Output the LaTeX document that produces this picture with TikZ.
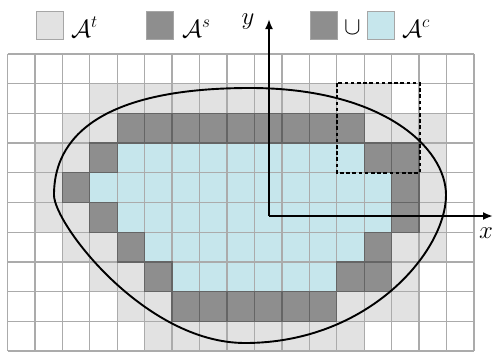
\documentclass[tikz,border=0pt]{standalone}
\usetikzlibrary{arrows.meta}

% cell colours: white, target set, boundary set, core set
\definecolor{cW}{HTML}{FFFFFF}
\definecolor{cL}{HTML}{E2E2E2}
\definecolor{cD}{HTML}{8E8E8E}
\definecolor{cC}{HTML}{C6E6EC}
\definecolor{gridline}{HTML}{ABABAB}
\definecolor{darkline}{HTML}{656565}

% occupancy of the 17 x 10 cell grid, top row first
\def\cellrows{
 {W,W,W,W,W,W,W,W,W,W,W,W,W,W,W,W,W},
 {W,W,W,L,L,L,L,L,L,L,L,L,L,L,W,W,W},
 {W,W,L,L,D,D,D,D,D,D,D,D,D,L,L,L,W},
 {W,L,L,D,C,C,C,C,C,C,C,C,C,D,D,L,W},
 {W,L,D,C,C,C,C,C,C,C,C,C,C,C,D,L,W},
 {W,L,L,D,C,C,C,C,C,C,C,C,C,C,D,L,W},
 {W,W,L,L,D,C,C,C,C,C,C,C,C,D,L,L,W},
 {W,W,W,L,L,D,C,C,C,C,C,C,D,D,L,W,W},
 {W,W,W,W,L,L,D,D,D,D,D,D,L,L,L,W,W},
 {W,W,W,W,W,L,L,L,L,L,L,L,L,W,W,W,W}}

\tikzset{
  gridstyle/.style={draw=gridline, line width=1.3pt},
  darkedge/.style={draw=darkline, line width=1.3pt},
  legendbox/.style={draw=black!35, line width=1pt, minimum width=27pt,
                    minimum height=28pt, inner sep=0pt},
  legendtext/.style={inner sep=0pt, anchor=base west, font=\fontsize{24}{28}\selectfont},
  axislabel/.style={inner sep=0pt, font=\fontsize{24}{28}\selectfont},
  region/.style={draw=black, line width=1.9pt},
  axis/.style={draw=black, line width=2.2pt, -{Latex[length=10pt,width=8pt]}},
  window/.style={draw=black, line width=2.2pt, dash pattern=on 3.6pt off 2.6pt}
}

\begin{document}
\begin{tikzpicture}[x=1pt,y=-1pt]
\useasboundingbox (0,0) rectangle (494,351);
\def\cw{27.44}
\def\ch{29.7}
\def\dk{D}

% cell fills
\foreach \cells [count=\r from 0] in \cellrows {
  \foreach \c [count=\i from 0] in \cells {
    \fill[fill=c\c] ({7.5+\i*\cw},{54+\r*\ch}) rectangle +(\cw,\ch);
  }
}

% grid lines
\foreach \i in {0,...,17}
  \draw[gridstyle] ({7.5+\i*\cw},54) -- ({7.5+\i*\cw},351);
\foreach \r in {0,...,10}
  \draw[gridstyle] (7.5,{54+\r*\ch}) -- (474,{54+\r*\ch});

% darker outlines around boundary cells
\foreach \cells [count=\r from 0] in \cellrows {
  \foreach \c [count=\i from 0] in \cells {
    \ifx\c\dk
      \draw[darkedge] ({7.5+\i*\cw},{54+\r*\ch}) rectangle +(\cw,\ch);
    \fi
  }
}

% closed region boundary
\draw[region] (54,195) .. controls (54,159) and (71,88) .. (250,88)
  .. controls (383,88) and (446,148) .. (446,195)
  .. controls (446,251) and (369,343) .. (245,343)
  .. controls (145,343) and (54,224) .. (54,195) -- cycle;

% local window
\draw[window] (337,83) rectangle (420,173);

% axes
\coordinate (O) at (269,216);
\coordinate (xend) at (493,216);
\coordinate (yend) at (269,19);
\draw[axis] (O) -- (xend);
\draw[axis] (O) -- (yend);
\node[axislabel] (ylab) at (248,22) {$y$};
\node[axislabel] (xlab) at (486,233) {$x$};

% legend
\node[legendbox, fill=cL] (keyT) at (49.5,25) {};
\node[legendtext] (labT) at (71,37) {$\mathcal{A}^t$};
\node[legendbox, fill=cD] (keyS) at (160,25) {};
\node[legendtext] (labS) at (182,37) {$\mathcal{A}^s$};
\node[legendbox, fill=cD] (keyS2) at (323.5,25) {};
\node[axislabel] (cupsym) at (352.5,28) {$\cup$};
\node[legendbox, fill=cC] (keyC) at (380.5,25) {};
\node[legendtext] (labC) at (402,37) {$\mathcal{A}^c$};
\end{tikzpicture}
\end{document}
